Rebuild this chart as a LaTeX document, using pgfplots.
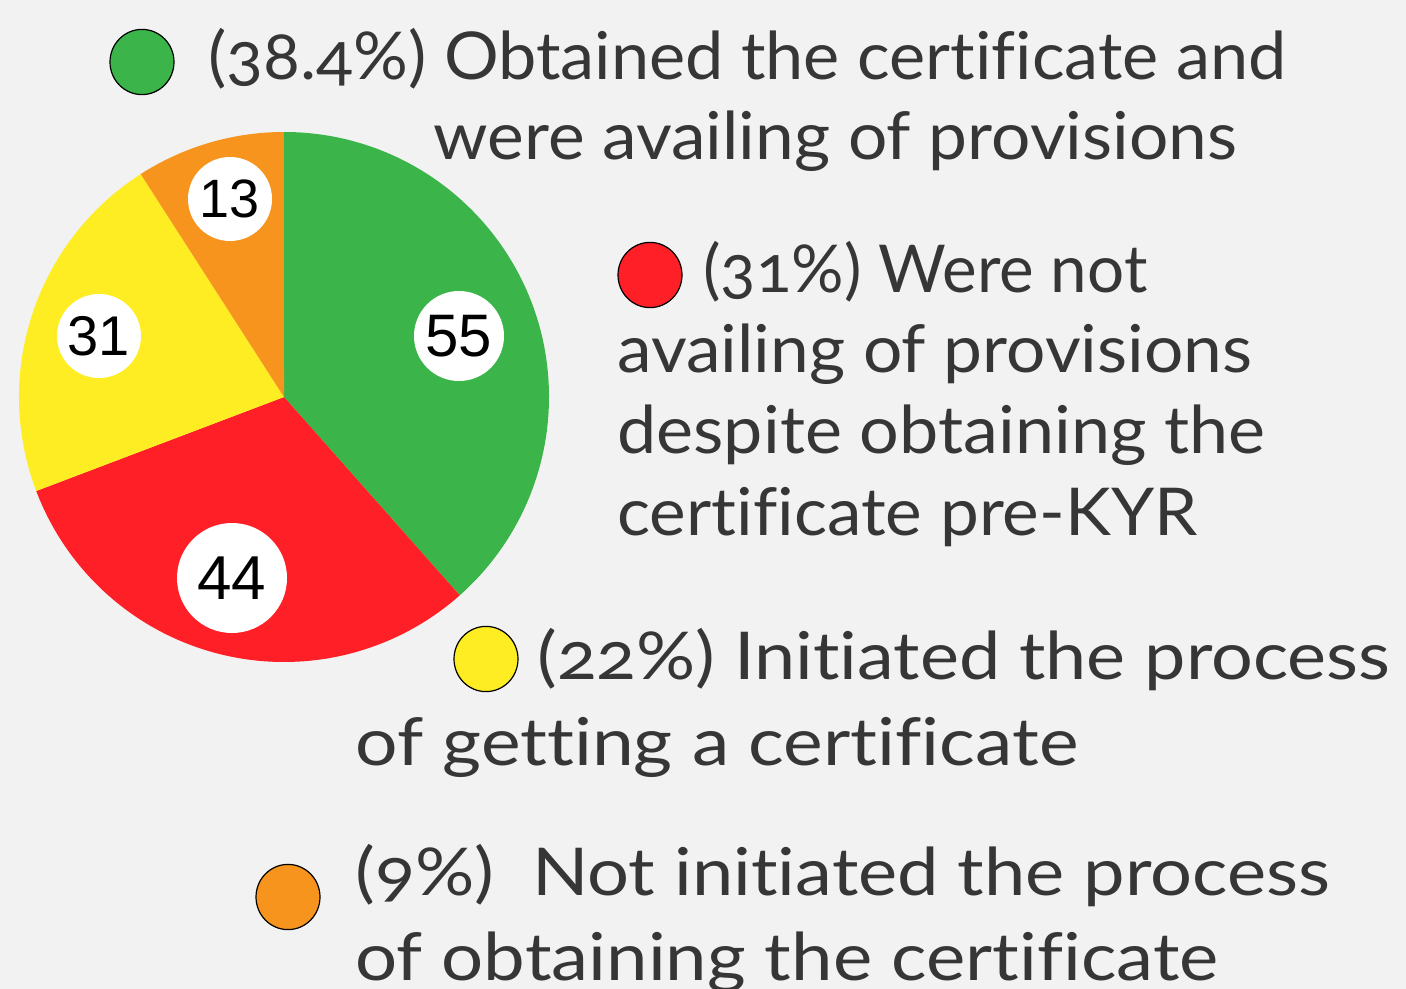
\documentclass[border=0pt]{standalone}
\usepackage{pgfplots}
\usepackage{pgfplotstable}
\usepackage{graphicx}
\pgfplotsset{compat=1.18}
\usepackage{fontspec}
\setmainfont{Lato}[Ligatures=NoCommon, Numbers=OldStyle]
\newfontfamily\numfont{Liberation Sans}
\definecolor{bg}{HTML}{F2F2F2}
\definecolor{cgreen}{HTML}{3BB54A}
\definecolor{cred}{HTML}{FF1F27}
\definecolor{cyellow}{HTML}{FEED22}
\definecolor{corange}{HTML}{F7941E}
\definecolor{txt}{HTML}{363636}

\pgfplotstableread{
value
55
44
31
13
}\piedata
\pgfplotstablegetelem{0}{value}\of\piedata \edef\vA{\pgfplotsretval}
\pgfplotstablegetelem{1}{value}\of\piedata \edef\vB{\pgfplotsretval}
\pgfplotstablegetelem{2}{value}\of\piedata \edef\vC{\pgfplotsretval}
\pgfplotstablegetelem{3}{value}\of\piedata \edef\vD{\pgfplotsretval}
\pgfmathsetmacro\tot{\vA+\vB+\vC+\vD}
\pgfmathsetmacro\aA{90-360*(\vA/\tot)}
\pgfmathsetmacro\aB{\aA-360*(\vB/\tot)}
\pgfmathsetmacro\aC{\aB-360*(\vC/\tot)}
\pgfmathsetmacro\aD{\aC-360*(\vD/\tot)}

\newcommand\fitw[2]{\resizebox{#1}{\height}{#2}}

\begin{document}
\begin{tikzpicture}
\begin{axis}[
  scale only axis, width=703pt, height=494.5pt,
  xmin=0, xmax=1406, ymin=0, ymax=989, y dir=reverse,
  hide axis, clip=false,
]
\fill[bg] (0,0) rectangle (1406,989);
% pie
\def\R{132.5pt}
\fill[cgreen]  (284,397) -- +(90:\R)  arc[start angle=90,  end angle=\aA, radius=\R] -- cycle;
\fill[cred]    (284,397) -- +(\aA:\R) arc[start angle=\aA, end angle=\aB, radius=\R] -- cycle;
\fill[cyellow] (284,397) -- +(\aB:\R) arc[start angle=\aB, end angle=\aC, radius=\R] -- cycle;
\fill[corange] (284,397) -- +(\aC:\R) arc[start angle=\aC, end angle=\aD, radius=\R] -- cycle;
% value labels
\tikzset{vl/.style={circle, fill=white, inner sep=0pt, text=black}}
\node[vl, minimum size=45pt, font=\numfont\fontsize{30}{30}\selectfont] at (459,336) {55};
\node[vl, minimum size=55pt, font=\numfont\fontsize{31}{31}\selectfont] at (232,578) {44};
\node[vl, minimum size=42pt, font=\numfont\fontsize{28}{28}\selectfont] at (99,336) {31};
\node[vl, minimum size=42pt, font=\numfont\fontsize{27}{27}\selectfont] at (230,199) {13};
% legend markers
\draw[fill=cgreen, line width=0.6pt]  (142,62)  ellipse [x radius=16pt, y radius=16.3pt];
\draw[fill=cred, line width=0.6pt]    (650,275) ellipse [x radius=16pt, y radius=16.3pt];
\draw[fill=cyellow, line width=0.6pt] (486,659) ellipse [x radius=16pt, y radius=16.3pt];
\draw[fill=corange, line width=0.6pt] (288,897) ellipse [x radius=16pt, y radius=16.3pt];
% legend texts
\tikzset{lt/.style={anchor=base west, inner sep=0pt, text=txt, font=\fontsize{33}{40}\selectfont}}
\node[lt] at (208,80)  {\fitw{539pt}{(38.4\%) Obtained the certificate and}};
\node[lt] at (433,160) {\fitw{402pt}{were availing of provisions}};
\node[lt] at (703,293) {\fitw{222pt}{(31\%) Were not}};
\node[lt] at (617,372) {\fitw{317.5pt}{availing of provisions}};
\node[lt] at (617,453) {\fitw{324pt}{despite obtaining the}};
\node[lt] at (617,535) {\fitw{290pt}{certificate pre-KYR}};
\node[lt] at (537,679) {\fitw{426.5pt}{(22\%) Initiated the process}};
\node[lt] at (355,765) {\fitw{361.5pt}{of getting a certificate}};
\node[lt] at (355,895) {\fitw{487.5pt}{(9\%)\ \ Not initiated the process}};
\node[lt] at (355,980) {\fitw{431.5pt}{of obtaining the certificate}};
\end{axis}
\pgfresetboundingbox
\path[use as bounding box] (current axis.south west) rectangle (current axis.north east);
\end{tikzpicture}
\end{document}
